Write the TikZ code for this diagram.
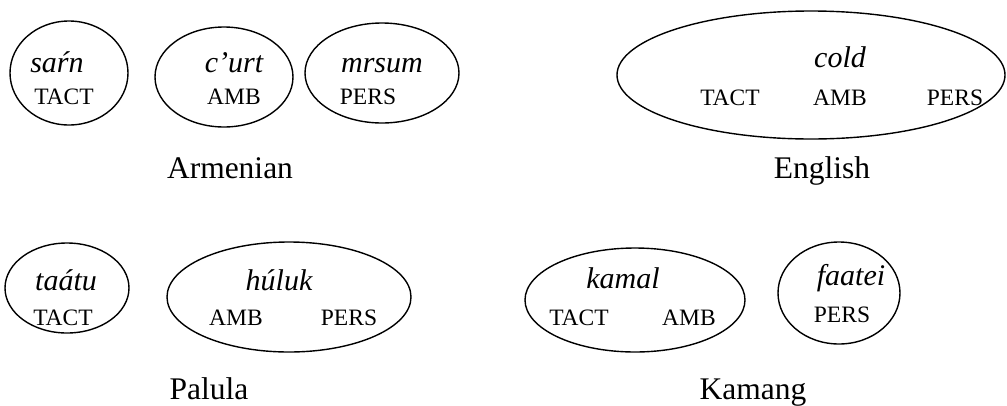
\documentclass[tikz,border=0pt]{standalone}
\usepackage{fontspec}
\setmainfont{Liberation Serif}
\usetikzlibrary{shapes.geometric}
\begin{document}
\begin{tikzpicture}[x=1pt,y=-1pt,
  blob/.style={draw, ellipse, line width=1.4pt, inner sep=0pt},
  word/.style={anchor=base, inner sep=0pt, font=\fontsize{30}{32}\selectfont\itshape},
  gloss/.style={anchor=base, inner sep=0pt, font=\fontsize{23.5}{25}\selectfont},
  lang/.style={anchor=base, inner sep=0pt, font=\fontsize{31.5}{33}\selectfont}]
\useasboundingbox (0,0) rectangle (1007,405);

% Armenian
\node[blob, minimum width=118pt, minimum height=104pt] (arm1) at (69,73) {};
\node[word]  (arm1w) at (57,72)  {saŕn};
\node[gloss] (arm1g) at (64,104) {TACT};
\node[blob, minimum width=138pt, minimum height=100pt] (arm2) at (224,77) {};
\node[word]  (arm2w) at (234,72)  {c’urt};
\node[gloss] (arm2g) at (234,104) {AMB};
\node[blob, minimum width=154pt, minimum height=100pt] (arm3) at (382,73) {};
\node[word]  (arm3w) at (382,72)  {mrsum};
\node[gloss] (arm3g) at (368,104) {PERS};
\node[lang]  (armL) at (230,178) {Armenian};

% English
\node[blob, minimum width=388pt, minimum height=128pt] (eng) at (811,75) {};
\node[word]  (engw)  at (840,67)  {cold};
\node[gloss] (engg1) at (730,105) {TACT};
\node[gloss] (engg2) at (840,105) {AMB};
\node[gloss] (engg3) at (955,105) {PERS};
\node[lang]  (engL) at (822,178) {English};

% Palula
\node[blob, minimum width=124pt, minimum height=90pt] (pal1) at (67,288) {};
\node[word]  (pal1w) at (66,290) {taátu};
\node[gloss] (pal1g) at (63,325) {TACT};
\node[blob, minimum width=244pt, minimum height=110pt] (pal2) at (289,297) {};
\node[word]  (pal2w)  at (279,290) {húluk};
\node[gloss] (pal2g1) at (236,325) {AMB};
\node[gloss] (pal2g2) at (349,325) {PERS};
\node[lang]  (palL) at (209,399) {Palula};

% Kamang
\node[blob, minimum width=220pt, minimum height=104pt] (kam1) at (635,300) {};
\node[word]  (kam1w)  at (623,288) {kamal};
\node[gloss] (kam1g1) at (579,325) {TACT};
\node[gloss] (kam1g2) at (689,325) {AMB};
\node[blob, minimum width=122pt, minimum height=102pt] (kam2) at (839,293) {};
\node[word]  (kam2w) at (851,285) {faatei};
\node[gloss] (kam2g) at (842,322) {PERS};
\node[lang]  (kamL) at (753,399) {Kamang};
\end{tikzpicture}
\end{document}
